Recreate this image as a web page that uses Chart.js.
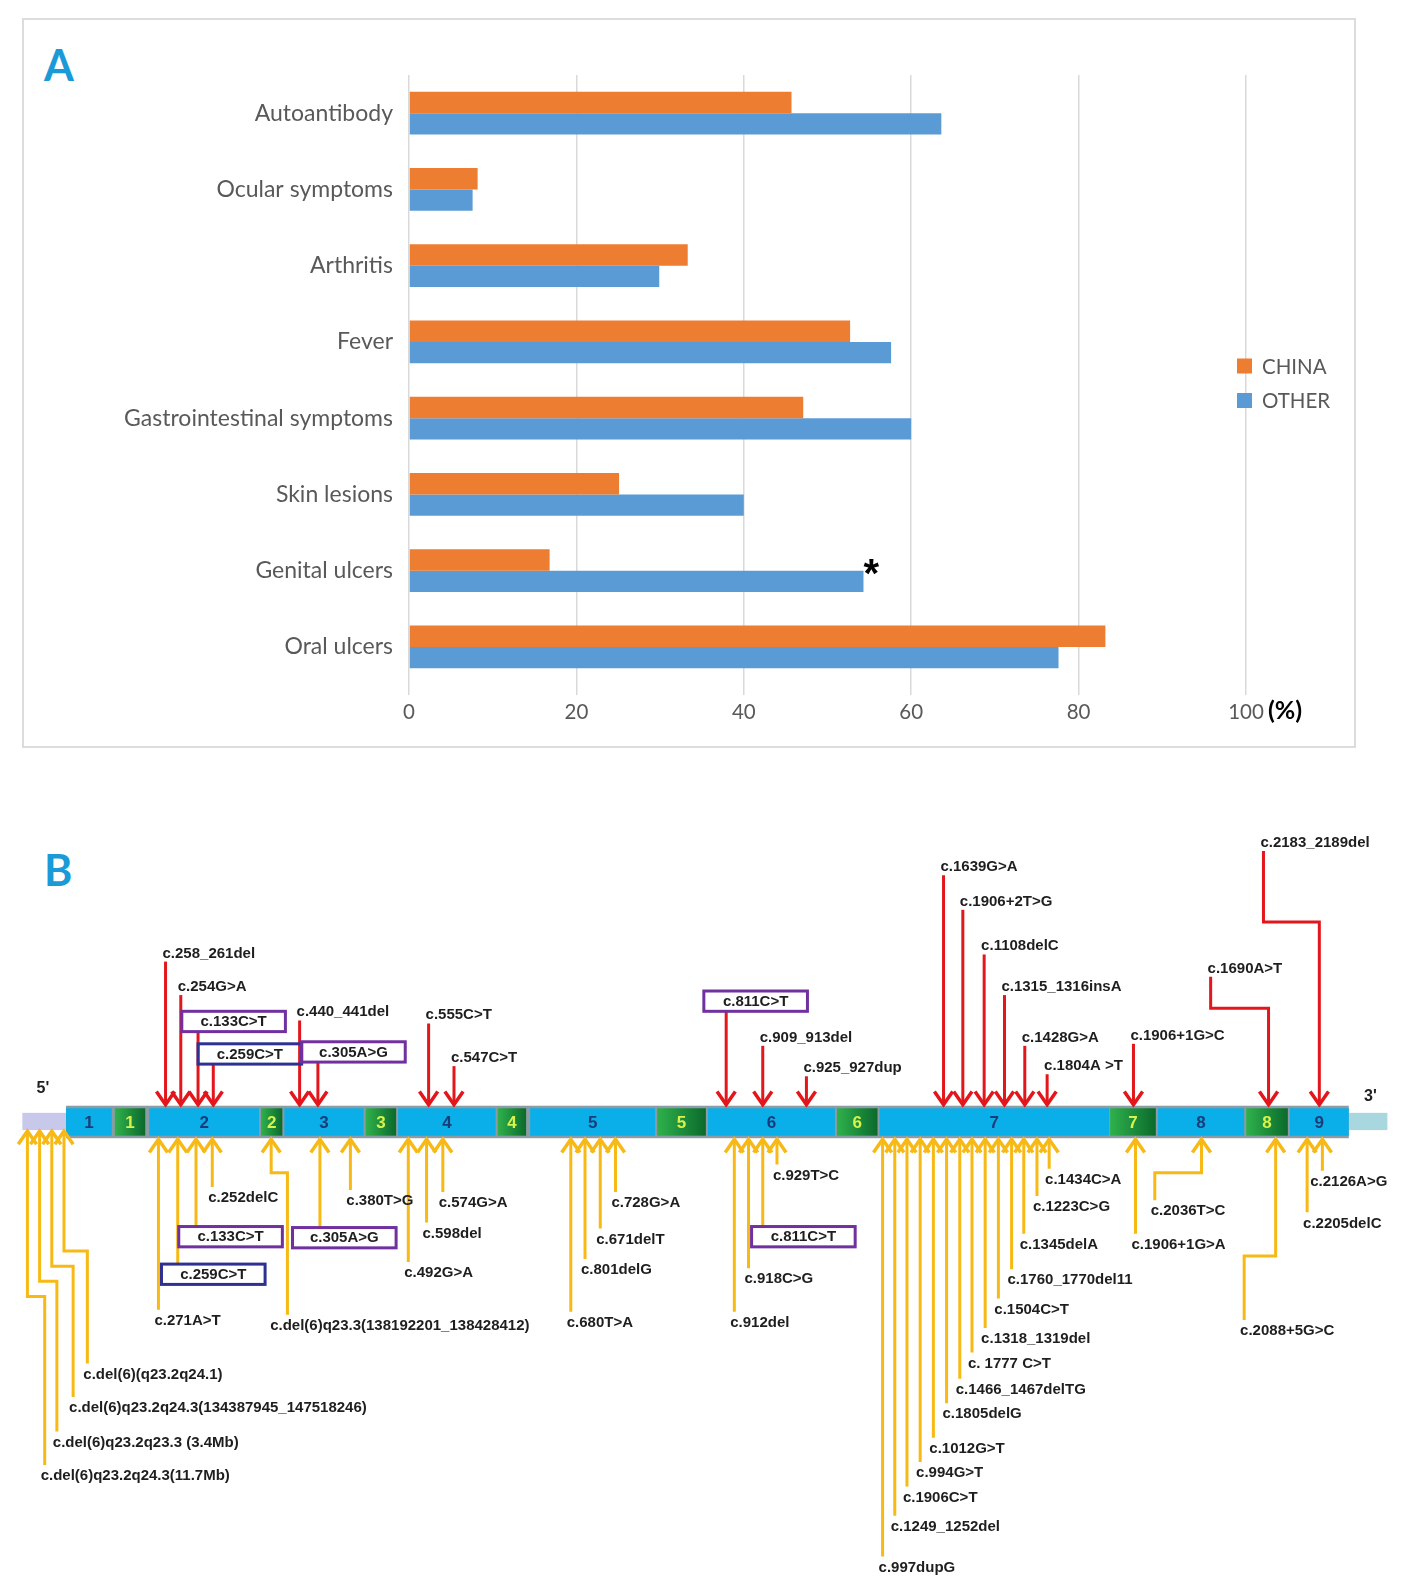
<!DOCTYPE html>
<html>
<head>
<meta charset="utf-8">
<script src="https://cdn.jsdelivr.net/npm/chart.js@4.4.1/dist/chart.umd.min.js"></script>
<style>
body { margin: 0; background: #fff; width: 1428px; height: 1591px; position: relative; overflow: hidden; }
#boxA { position: absolute; left: 22px; top: 18px; width: 1330px; height: 726px; border: 2px solid #dcdcdc; }
canvas { position: absolute; left: 0; }
#chartA { top: 0; }
#chartB { top: 790px; }
.tag { position: absolute; left: 44px; font: bold 43px Lato, sans-serif; line-height: 43px; color: #1a9bd7; }
</style>
</head>
<body>
<div id="boxA"></div>
<div class="tag" style="top:43px">A</div>
<div class="tag" style="top:848px">B</div>
<canvas id="chartA" width="1428" height="770"></canvas>
<canvas id="chartB" width="1428" height="801"></canvas>
<script>
// ---- panel A data ----
const categories = ['Autoantibody', 'Ocular symptoms', 'Arthritis', 'Fever',
	'Gastrointestinal symptoms', 'Skin lesions', 'Genital ulcers', 'Oral ulcers'];
const chinaValues = [45.7, 8.2, 33.3, 52.7, 47.1, 25.1, 16.8, 83.2];
const otherValues = [63.6, 7.6, 29.9, 57.6, 60.0, 40.0, 54.3, 77.6];
const seriesNames = ['CHINA', 'OTHER'];
const significant = ['Genital ulcers'];

// ---- panel B data (positions in diagram units along the transcript) ----
const blockStart = [65, 113, 147, 257, 280, 360, 392, 490, 522, 647, 697, 824, 866, 1093, 1140, 1227, 1270];
const blockEnd = [110, 143, 255, 278, 358, 390, 488, 518, 645, 695, 822, 864, 1092, 1138, 1225, 1268, 1328];
const blockLabel = ['1', '1', '2', '2', '3', '3', '4', '4', '5', '5', '6', '6', '7', '7', '8', '8', '9'];
const utr5 = [22, 65];
const utr3 = [1328, 1366];

// variants shown above the gene (red)
const upperVariants = [
	{ label: 'c.258_261del', at: 163, end: 947 },
	{ label: 'c.254G>A', at: 178, end: 980 },
	{ label: 'c.133C>T', at: 195, end: 1016, box: 1, boxFrom: 179 },
	{ label: 'c.259C>T', at: 210, end: 1048, box: 2, boxFrom: 195 },
	{ label: 'c.440_441del', at: 295, end: 1005 },
	{ label: 'c.305A>G', at: 313, end: 1046, box: 1, boxFrom: 297 },
	{ label: 'c.555C>T', at: 422, end: 1008 },
	{ label: 'c.547C>T', at: 447, end: 1050 },
	{ label: 'c.811C>T', at: 715, end: 996, box: 1, boxFrom: 693 },
	{ label: 'c.909_913del', at: 751, end: 1030 },
	{ label: 'c.925_927dup', at: 794, end: 1060 },
	{ label: 'c.1639G>A', at: 929, end: 862 },
	{ label: 'c.1906+2T>G', at: 948, end: 896 },
	{ label: 'c.1108delC', at: 969, end: 940 },
	{ label: 'c.1315_1316insA', at: 989, end: 980 },
	{ label: 'c.1428G>A', at: 1009, end: 1030 },
	{ label: 'c.1804A >T', at: 1031, end: 1058 },
	{ label: 'c.1906+1G>C', at: 1116, end: 1028 },
	{ label: 'c.1690A>T', at: 1249, end: 962, bendY: 993, bendX: 1192 },
	{ label: 'c.2183_2189del', at: 1299, end: 838, bendY: 908, bendX: 1244 },
];

// variants shown below the gene (yellow)
const lowerVariants = [
	{ label: 'c.del(6)q23.2q24.3(11.7Mb)', at: 27, end: 1443, bendY: 1277, bendX: 44 },
	{ label: 'c.del(6)q23.2q23.3 (3.4Mb)', at: 39, end: 1410, bendY: 1262, bendX: 56 },
	{ label: 'c.del(6)q23.2q24.3(134387945_147518246)', at: 51, end: 1376, bendY: 1247, bendX: 72 },
	{ label: 'c.del(6)(q23.2q24.1)', at: 63, end: 1343, bendY: 1232, bendX: 86 },
	{ label: 'c.271A>T', at: 156, end: 1290 },
	{ label: 'c.259C>T', at: 175, end: 1245, box: 2, boxFrom: 159 },
	{ label: 'c.133C>T', at: 193, end: 1208, box: 1, boxFrom: 176 },
	{ label: 'c.252delC', at: 209, end: 1169 },
	{ label: 'c.del(6)q23.3(138192201_138428412)', at: 267, end: 1295, bendY: 1155, bendX: 283, shift: -17 },
	{ label: 'c.305A>G', at: 315, end: 1209, box: 1, boxFrom: 288 },
	{ label: 'c.380T>G', at: 345, end: 1172 },
	{ label: 'c.492G>A', at: 402, end: 1243 },
	{ label: 'c.598del', at: 420, end: 1204 },
	{ label: 'c.574G>A', at: 436, end: 1174 },
	{ label: 'c.680T>A', at: 562, end: 1292 },
	{ label: 'c.801delG', at: 576, end: 1240 },
	{ label: 'c.671delT', at: 591, end: 1210 },
	{ label: 'c.728G>A', at: 606, end: 1174 },
	{ label: 'c.912del', at: 723, end: 1292 },
	{ label: 'c.918C>G', at: 737, end: 1249 },
	{ label: 'c.811C>T', at: 751, end: 1208, box: 1, boxFrom: 740 },
	{ label: 'c.929T>C', at: 765, end: 1147 },
	{ label: 'c.997dupG', at: 869, end: 1533 },
	{ label: 'c.1249_1252del', at: 881, end: 1493 },
	{ label: 'c.1906C>T', at: 893, end: 1464 },
	{ label: 'c.994G>T', at: 906, end: 1440 },
	{ label: 'c.1012G>T', at: 919, end: 1416 },
	{ label: 'c.1805delG', at: 932, end: 1382 },
	{ label: 'c.1466_1467delTG', at: 945, end: 1358 },
	{ label: 'c. 1777 C>T', at: 957, end: 1332 },
	{ label: 'c.1318_1319del', at: 970, end: 1308 },
	{ label: 'c.1504C>T', at: 983, end: 1279 },
	{ label: 'c.1760_1770del11', at: 996, end: 1250 },
	{ label: 'c.1345delA', at: 1008, end: 1215 },
	{ label: 'c.1223C>G', at: 1021, end: 1178 },
	{ label: 'c.1434C>A', at: 1033, end: 1151 },
	{ label: 'c.1906+1G>A', at: 1118, end: 1215 },
	{ label: 'c.2036T>C', at: 1183, end: 1182, bendY: 1155, bendX: 1137 },
	{ label: 'c.2088+5G>C', at: 1256, end: 1300, bendY: 1237, bendX: 1225 },
	{ label: 'c.2205delC', at: 1287, end: 1194 },
	{ label: 'c.2126A>G', at: 1302, end: 1153, shift: -12 },
];

const ORANGE = '#ed7d31';
const BLUE = '#5b9bd5';
const GRAY_TEXT = '#595959';
const RED = '#e3161b';
const YELLOW = '#f7b916';
const BOX_COLORS = { 1: '#7030a0', 2: '#2e3192' };
const LABEL_FONT = 'bold 15px "Liberation Sans", Arial, sans-serif';

// bar of the gene body, in diagram units
const GENE_TOP = 1089;
const GENE_BOTTOM = 1121;
const UTR_TOP = 1096;
const UTR_BOTTOM = 1113;

// ---------- panel A ----------
const panelAExtras = {
	id: 'panelAExtras',
	afterDraw(chart) {
		const ctx = chart.ctx;
		const x = chart.scales.x;

		// significance star
		significant.forEach(cat => {
			const i = categories.indexOf(cat);
			const bar = chart.getDatasetMeta(1).data[i];
			ctx.save();
			ctx.fillStyle = '#000';
			ctx.font = 'bold 40px "Liberation Sans", Arial, sans-serif';
			ctx.textAlign = 'left';
			ctx.textBaseline = 'alphabetic';
			ctx.fillText('*', bar.x, bar.y - bar.height / 2 + 16);
			ctx.restore();
		});

		// unit after the last tick
		ctx.save();
		ctx.fillStyle = '#000';
		ctx.font = 'bold 25px Lato, sans-serif';
		ctx.textBaseline = 'middle';
		ctx.textAlign = 'left';
		ctx.fillText('(%)', x.getPixelForValue(100) + 22, chart.chartArea.bottom + 26);
		ctx.restore();

		// legend
		ctx.save();
		ctx.font = '20.5px Lato, sans-serif';
		ctx.textBaseline = 'middle';
		chart.data.datasets.forEach((ds, i) => {
			const cy = 366 + i * 34.5;
			ctx.fillStyle = ds.backgroundColor;
			ctx.fillRect(1237, cy - 7.5, 15, 15);
			ctx.fillStyle = GRAY_TEXT;
			ctx.fillText(ds.label, 1262, cy + 1);
		});
		ctx.restore();
	}
};

new Chart(document.getElementById('chartA'), {
	type: 'bar',
	data: {
		labels: categories,
		datasets: [
			{ label: seriesNames[0], data: chinaValues, backgroundColor: ORANGE },
			{ label: seriesNames[1], data: otherValues, backgroundColor: BLUE },
		]
	},
	options: {
		indexAxis: 'y',
		responsive: false,
		animation: false,
		devicePixelRatio: 1,
		layout: { padding: { left: 0, right: 182, top: 75, bottom: 40 } },
		datasets: { bar: { categoryPercentage: 0.56, barPercentage: 1 } },
		plugins: { legend: { display: false }, tooltip: { enabled: false } },
		scales: {
			x: {
				min: 0,
				max: 100,
				ticks: { stepSize: 20, color: GRAY_TEXT, font: { family: 'Lato', size: 20.5 }, padding: 5 },
				grid: { color: '#d9d9d9', lineWidth: 1.5, tickLength: 10, tickColor: '#d9d9d9' },
				border: { display: false },
				afterFit(scale) { scale.height = 45; }
			},
			y: {
				grid: { display: false },
				border: { display: false },
				ticks: { color: GRAY_TEXT, font: { family: 'Lato', size: 23 }, padding: 8 },
				afterFit(scale) { scale.width = 409; }
			}
		}
	},
	plugins: [panelAExtras]
});

// ---------- panel B ----------
function tipFor(v, up) {
	if (up) return GENE_TOP - 1;
	return v.at < blockStart[0] ? UTR_BOTTOM + 1 : GENE_BOTTOM + 1;
}

function arrowPath(v, up) {
	const pts = [{ x: v.at, y: tipFor(v, up) }];
	if (v.bendY !== undefined) {
		pts.push({ x: v.at, y: v.bendY });
		pts.push({ x: v.bendX, y: v.bendY });
		pts.push({ x: v.bendX, y: v.end });
	} else {
		pts.push({ x: v.at, y: v.end });
	}
	return pts;
}

function pathDataset(v, up) {
	return {
		label: v.label,
		data: arrowPath(v, up),
		showLine: true,
		borderColor: up ? RED : YELLOW,
		borderWidth: 3,
		pointRadius: 0,
		tension: 0,
		fill: false
	};
}

const geneDiagram = {
	id: 'geneDiagram',
	beforeDatasetsDraw(chart) {
		const ctx = chart.ctx;
		const px = v => chart.scales.x.getPixelForValue(v);
		const py = v => chart.scales.y.getPixelForValue(v);

		ctx.save();
		// UTRs
		ctx.fillStyle = '#c8c8ea';
		ctx.fillRect(px(utr5[0]), py(UTR_TOP), px(utr5[1]) - px(utr5[0]), py(UTR_BOTTOM) - py(UTR_TOP));
		ctx.fillStyle = '#a9d7df';
		ctx.fillRect(px(utr3[0]), py(UTR_TOP), px(utr3[1]) - px(utr3[0]), py(UTR_BOTTOM) - py(UTR_TOP));

		// gene body frame
		ctx.fillStyle = '#8d9ca4';
		ctx.fillRect(px(blockStart[0]), py(GENE_TOP), px(blockEnd[blockEnd.length - 1]) - px(blockStart[0]), py(GENE_BOTTOM) - py(GENE_TOP));

		blockStart.forEach((s, i) => {
			const x0 = px(s), x1 = px(blockEnd[i]);
			const y0 = py(GENE_TOP + 2.5), y1 = py(GENE_BOTTOM - 2.5);
			const exon = i % 2 === 0;
			if (exon) {
				ctx.fillStyle = '#0aaee8';
			} else {
				const g = ctx.createLinearGradient(x0, 0, x1, 0);
				g.addColorStop(0, '#2fb14c');
				g.addColorStop(1, '#0b6a2c');
				ctx.fillStyle = g;
			}
			ctx.fillRect(x0, y0, x1 - x0, y1 - y0);
			ctx.fillStyle = exon ? '#1a3c78' : '#d8f24c';
			ctx.font = 'bold 17px "Liberation Sans", Arial, sans-serif';
			ctx.textAlign = 'center';
			ctx.textBaseline = 'middle';
			ctx.fillText(blockLabel[i], (x0 + x1) / 2, (y0 + y1) / 2 + 1);
		});

		ctx.fillStyle = '#222';
		ctx.font = 'bold 16px "Liberation Sans", Arial, sans-serif';
		ctx.textAlign = 'left';
		ctx.textBaseline = 'middle';
		ctx.fillText("5'", px(36), py(1072));
		ctx.fillText("3'", px(1343), py(1080));
		ctx.restore();
	},
	afterDatasetsDraw(chart) {
		const ctx = chart.ctx;
		const px = v => chart.scales.x.getPixelForValue(v);
		const py = v => chart.scales.y.getPixelForValue(v);

		function head(x, tip, dir, color) {
			ctx.strokeStyle = color;
			ctx.lineWidth = 3.5;
			ctx.lineJoin = 'miter';
			ctx.beginPath();
			ctx.moveTo(px(x - 9), py(tip - dir * 13));
			ctx.lineTo(px(x), py(tip));
			ctx.lineTo(px(x + 9), py(tip - dir * 13));
			ctx.stroke();
		}

		function label(v, up) {
			ctx.font = LABEL_FONT;
			ctx.fillStyle = '#1e1e1e';
			if (v.box) {
				const y0 = up ? v.end - 20 : v.end;
				const w = 102;
				ctx.strokeStyle = BOX_COLORS[v.box];
				ctx.lineWidth = 3;
				ctx.strokeRect(px(v.boxFrom), py(y0), px(v.boxFrom + w) - px(v.boxFrom), py(y0 + 20) - py(y0));
				ctx.textAlign = 'center';
				ctx.textBaseline = 'middle';
				ctx.fillText(v.label, px(v.boxFrom + w / 2), py(y0 + 10.5));
				return;
			}
			const lx = (v.bendX !== undefined ? v.bendX : v.at) + (v.shift || (up ? -3 : -4));
			ctx.textAlign = 'left';
			ctx.textBaseline = 'alphabetic';
			ctx.fillText(v.label, px(lx), py(up ? v.end - 4 : v.end + 15));
		}

		ctx.save();
		upperVariants.forEach(v => head(v.at, tipFor(v, true), 1, RED));
		lowerVariants.forEach(v => head(v.at, tipFor(v, false), -1, YELLOW));
		upperVariants.forEach(v => label(v, true));
		lowerVariants.forEach(v => label(v, false));
		ctx.restore();
	}
};

new Chart(document.getElementById('chartB'), {
	type: 'scatter',
	data: {
		datasets: [
			...upperVariants.map(v => pathDataset(v, true)),
			...lowerVariants.map(v => pathDataset(v, false)),
		]
	},
	options: {
		responsive: false,
		animation: false,
		devicePixelRatio: 1,
		layout: { padding: 0 },
		plugins: { legend: { display: false }, tooltip: { enabled: false } },
		scales: {
			x: { type: 'linear', display: false, min: 0, max: 1406 },
			y: { type: 'linear', display: false, min: 778, max: 1567, reverse: true }
		}
	},
	plugins: [geneDiagram]
});
</script>
</body>
</html>
